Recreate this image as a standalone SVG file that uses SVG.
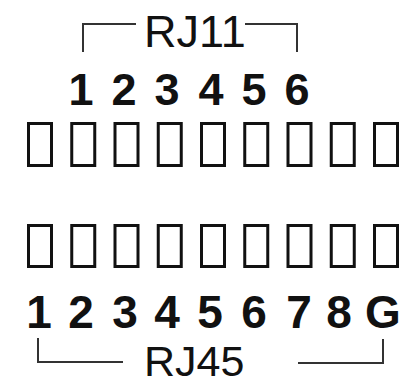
<svg xmlns="http://www.w3.org/2000/svg" width="406" height="385" viewBox="0 0 406 385">
<style>
.pin{fill:none;stroke:#111;stroke-width:3}
.num{font-family:"Liberation Sans",Arial,sans-serif;font-weight:bold;font-size:45px;fill:#111;text-anchor:middle}
.title{font-family:"Liberation Sans",Arial,sans-serif;font-size:45px;fill:#111}
.br{fill:none;stroke:#333;stroke-width:2}
</style>
<rect width="406" height="385" fill="#fff"/>
<g id="rj11-label"><text class="title" x="144" y="47">RJ11</text></g>
<g id="rj11-numbers">
<text class="num" x="81" y="105">1</text>
<text class="num" x="124" y="105">2</text>
<text class="num" x="167" y="105">3</text>
<text class="num" x="211" y="105">4</text>
<text class="num" x="254" y="105">5</text>
<text class="num" x="297" y="105">6</text>
</g>
<g id="top-pins">
<rect class="pin" x="28.5" y="123.5" width="23" height="42"/>
<rect class="pin" x="71.75" y="123.5" width="23" height="42"/>
<rect class="pin" x="115" y="123.5" width="23" height="42"/>
<rect class="pin" x="158.25" y="123.5" width="23" height="42"/>
<rect class="pin" x="201.5" y="123.5" width="23" height="42"/>
<rect class="pin" x="244.75" y="123.5" width="23" height="42"/>
<rect class="pin" x="288" y="123.5" width="23" height="42"/>
<rect class="pin" x="331.25" y="123.5" width="23" height="42"/>
<rect class="pin" x="374.5" y="123.5" width="23" height="42"/>
</g>
<g id="bottom-pins">
<rect class="pin" x="28.5" y="225.5" width="23" height="41"/>
<rect class="pin" x="71.75" y="225.5" width="23" height="41"/>
<rect class="pin" x="115" y="225.5" width="23" height="41"/>
<rect class="pin" x="158.25" y="225.5" width="23" height="41"/>
<rect class="pin" x="201.5" y="225.5" width="23" height="41"/>
<rect class="pin" x="244.75" y="225.5" width="23" height="41"/>
<rect class="pin" x="288" y="225.5" width="23" height="41"/>
<rect class="pin" x="331.25" y="225.5" width="23" height="41"/>
<rect class="pin" x="374.5" y="225.5" width="23" height="41"/>
</g>
<g id="rj45-numbers">
<text class="num" x="39" y="328" style="font-size:46px">1</text>
<text class="num" x="81" y="328" style="font-size:46px">2</text>
<text class="num" x="125" y="328" style="font-size:46px">3</text>
<text class="num" x="167" y="328" style="font-size:46px">4</text>
<text class="num" x="210" y="328" style="font-size:46px">5</text>
<text class="num" x="254" y="328" style="font-size:46px">6</text>
<text class="num" x="299" y="328" style="font-size:46px">7</text>
<text class="num" x="339" y="328" style="font-size:46px">8</text>
<text class="num" x="383" y="328" style="font-size:46px">G</text>
</g>
<g id="rj45-label"><text class="title" x="144" y="376" style="font-size:43px">RJ45</text></g>
<g id="connectors">
<path class="br" d="M83,52 V24 H136"/>
<path class="br" d="M245,24 H297 V52"/>
<path class="br" d="M38,338 V362 H123"/>
<path class="br" d="M298,363 H383 V339"/>
</g>
</svg>
